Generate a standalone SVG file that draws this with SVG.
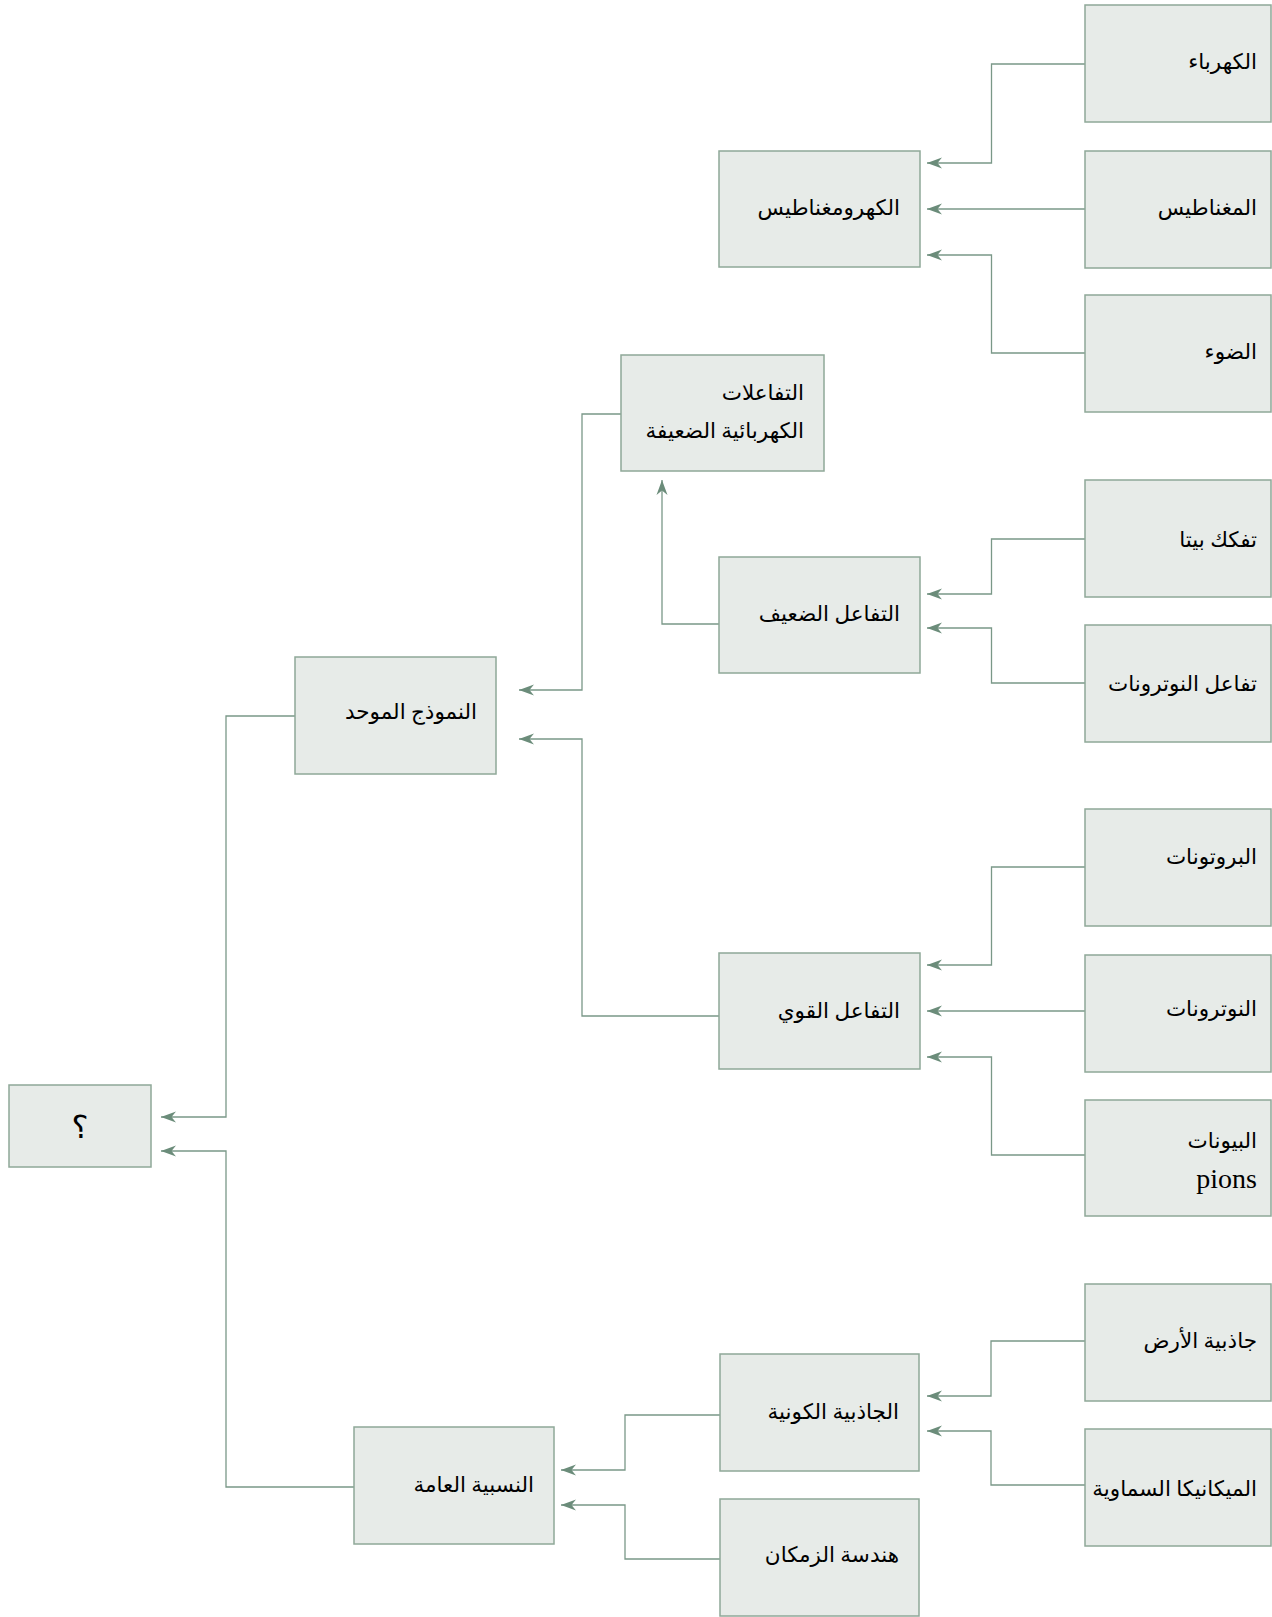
<svg xmlns="http://www.w3.org/2000/svg" width="1272" height="1617" viewBox="0 0 1272 1617">
<defs>
<style>
.box{fill:#E7EBE8;stroke:#8FA898;stroke-width:1.5}
.t{font-family:"Liberation Serif","DejaVu Sans",serif;font-size:21.5px;fill:#000;text-anchor:end;dominant-baseline:central}
.c{fill:none;stroke:#7A9888;stroke-width:1.3;marker-end:url(#ah)}
</style>
<marker id="ah" markerUnits="userSpaceOnUse" markerWidth="18" markerHeight="14" refX="15" refY="7" orient="auto">
<path d="M0,1.5 L15,7 L0,12.5 L4.5,7 Z" fill="#6B8C7A"/>
</marker>
</defs>
<g id="connectors">
<path class="c" d="M1085,64 H991.5 V163 H927"/>
<path class="c" d="M1085,209 H927"/>
<path class="c" d="M1085,353 H991.5 V255 H927"/>
<path class="c" d="M1085,539 H991.5 V594 H927"/>
<path class="c" d="M1085,683 H991.5 V628 H927"/>
<path class="c" d="M719,624 H662 V480"/>
<path class="c" d="M621,414 H582 V690 H519"/>
<path class="c" d="M719,1016 H582 V739 H519"/>
<path class="c" d="M1085,867 H991.5 V965 H927"/>
<path class="c" d="M1085,1011 H927"/>
<path class="c" d="M1085,1155 H991.5 V1057 H927"/>
<path class="c" d="M295,716 H226 V1117 H161"/>
<path class="c" d="M354,1487 H226 V1151 H161"/>
<path class="c" d="M1085,1341 H991 V1396 H927"/>
<path class="c" d="M1085,1485 H991 V1431 H927"/>
<path class="c" d="M720,1415 H625 V1470 H561"/>
<path class="c" d="M720,1559 H625 V1505 H561"/>
</g>
<g id="n_electricity"><rect class="box" x="1085" y="5" width="186" height="117"/><text class="t" x="1257" y="62">الكهرباء</text></g>
<g id="n_magnetism"><rect class="box" x="1085" y="151" width="186" height="117"/><text class="t" x="1257" y="208">المغناطيس</text></g>
<g id="n_light"><rect class="box" x="1085" y="295" width="186" height="117"/><text class="t" x="1257" y="352">الضوء</text></g>
<g id="n_em"><rect class="box" x="719" y="151" width="201" height="116"/><text class="t" x="900" y="208">الكهرومغناطيس</text></g>
<g id="n_ew"><rect class="box" x="621" y="355" width="203" height="116"/><text class="t" x="804" y="393">التفاعلات</text><text class="t" x="804" y="431">الكهربائية الضعيفة</text></g>
<g id="n_weak"><rect class="box" x="719" y="557" width="201" height="116"/><text class="t" x="900" y="614">التفاعل الضعيف</text></g>
<g id="n_beta"><rect class="box" x="1085" y="480" width="186" height="117"/><text class="t" x="1257" y="540">تفكك بيتا</text></g>
<g id="n_neutron_int"><rect class="box" x="1085" y="625" width="186" height="117"/><text class="t" x="1257" y="684">تفاعل النوترونات</text></g>
<g id="n_sm"><rect class="box" x="295" y="657" width="201" height="117"/><text class="t" x="477" y="712">النموذج الموحد</text></g>
<g id="n_q"><rect class="box" x="9" y="1085" width="142" height="82"/><text class="t" x="80" y="1127" style="text-anchor:middle;font-size:32px">؟</text></g>
<g id="n_strong"><rect class="box" x="719" y="953" width="201" height="116"/><text class="t" x="900" y="1011">التفاعل القوي</text></g>
<g id="n_protons"><rect class="box" x="1085" y="809" width="186" height="117"/><text class="t" x="1257" y="857">البروتونات</text></g>
<g id="n_neutrons"><rect class="box" x="1085" y="955" width="186" height="117"/><text class="t" x="1257" y="1009">النوترونات</text></g>
<g id="n_pions"><rect class="box" x="1085" y="1100" width="186" height="116"/><text class="t" x="1257" y="1141">البيونات</text><text class="t" x="1257" y="1178" style="font-size:28px">pions</text></g>
<g id="n_earth"><rect class="box" x="1085" y="1284" width="186" height="117"/><text class="t" x="1257" y="1341">جاذبية الأرض</text></g>
<g id="n_celestial"><rect class="box" x="1085" y="1429" width="186" height="117"/><text class="t" x="1257" y="1489">الميكانيكا السماوية</text></g>
<g id="n_universal"><rect class="box" x="720" y="1354" width="199" height="117"/><text class="t" x="899" y="1412">الجاذبية الكونية</text></g>
<g id="n_spacetime"><rect class="box" x="720" y="1499" width="199" height="117"/><text class="t" x="899" y="1555">هندسة الزمكان</text></g>
<g id="n_gr"><rect class="box" x="354" y="1427" width="200" height="117"/><text class="t" x="534" y="1485">النسبية العامة</text></g>
</svg>
